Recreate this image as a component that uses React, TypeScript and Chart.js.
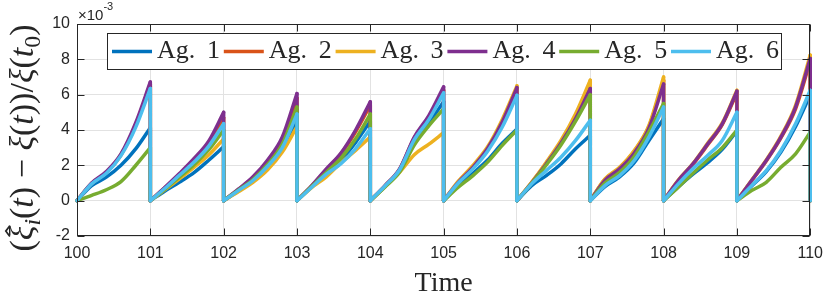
import React, { useEffect, useRef } from "react";
import { Chart, registerables } from "chart.js";

Chart.register(...registerables);

const AGENT_LABELS = ["Ag. 1", "Ag. 2", "Ag. 3", "Ag. 4", "Ag. 5", "Ag. 6"];
const AGENT_COLORS = ["#0072BD", "#D95319", "#EDB120", "#7E2F8E", "#77AC30", "#4DBEEE"];
const PERIOD_STARTS = [100, 101, 102, 103, 104, 105, 106, 107, 108, 109];
const SAMPLE_OFFSETS = [0.2, 0.4, 0.6, 0.8, 1.0];
const X_TICKS = [100, 101, 102, 103, 104, 105, 106, 107, 108, 109, 110];
const Y_TICKS = [-2, 0, 2, 4, 6, 8, 10];
const EXPONENT_BASE = "×10";
const EXPONENT_POWER = "-3";
const X_TITLE = "Time";

// values in units of 10^-3, one row per period, samples at SAMPLE_OFFSETS
const AG1 = [
  [0.85, 1.33, 2.0, 2.93, 4.13],
  [0.55, 1.05, 1.6, 2.3, 3.05],
  [0.55, 1.1, 1.85, 2.85, 4.5],
  [0.78, 1.55, 2.3, 3.3, 4.5],
  [0.8, 1.7, 3.3, 4.4, 5.6],
  [0.85, 1.55, 2.3, 3.25, 4.05],
  [0.85, 1.42, 2.08, 2.94, 3.7],
  [0.8, 1.35, 2.15, 3.41, 4.64],
  [0.78, 1.5, 2.15, 2.9, 3.95],
  [0.83, 1.65, 2.75, 4.2, 6.0],
];
const AG2 = [
  [0.98, 1.6, 2.6, 4.3, 6.6],
  [0.74, 1.5, 2.35, 3.3, 4.7],
  [0.63, 1.3, 2.2, 3.45, 5.8],
  [0.83, 1.75, 2.65, 3.9, 5.4],
  [0.84, 1.78, 3.55, 4.75, 6.25],
  [1.03, 1.87, 2.92, 4.4, 6.3],
  [1.02, 2.12, 3.3, 4.75, 6.5],
  [1.2, 1.85, 2.8, 4.2, 6.8],
  [1.12, 2.05, 3.15, 4.3, 6.1],
  [1.13, 2.25, 3.55, 5.2, 7.9],
];
const AG3 = [
  [0.97, 1.6, 2.6, 4.25, 6.5],
  [0.62, 1.25, 1.9, 2.6, 3.5],
  [0.5, 1.04, 1.75, 2.75, 4.2],
  [0.74, 1.35, 2.15, 2.85, 3.6],
  [0.78, 1.6, 2.6, 3.2, 3.85],
  [1.1, 2.0, 3.05, 4.6, 6.5],
  [1.04, 2.18, 3.41, 4.92, 6.82],
  [1.23, 1.89, 2.84, 4.26, 7.0],
  [1.16, 2.1, 3.25, 4.4, 6.25],
  [1.16, 2.3, 3.65, 5.4, 8.24],
];
const AG4 = [
  [1.0, 1.65, 2.65, 4.4, 6.72],
  [0.76, 1.55, 2.4, 3.4, 5.0],
  [0.65, 1.35, 2.3, 3.6, 6.06],
  [0.85, 1.8, 2.7, 4.0, 5.6],
  [0.85, 1.8, 3.6, 4.83, 6.44],
  [1.04, 1.89, 2.95, 4.45, 6.4],
  [1.0, 2.08, 3.25, 4.65, 6.35],
  [1.15, 1.8, 2.7, 4.1, 6.6],
  [1.14, 2.08, 3.2, 4.35, 6.2],
  [1.14, 2.27, 3.6, 5.3, 8.05],
];
const AG5 = [
  [0.3, 0.62, 1.08, 1.99, 3.0],
  [0.65, 1.35, 2.05, 2.9, 4.0],
  [0.6, 1.2, 2.05, 3.2, 5.3],
  [0.8, 1.6, 2.4, 3.5, 4.9],
  [0.78, 1.62, 3.15, 4.25, 5.2],
  [0.76, 1.42, 2.18, 3.13, 4.0],
  [0.98, 2.02, 3.15, 4.5, 6.0],
  [1.0, 1.6, 2.5, 3.9, 5.5],
  [0.76, 1.55, 2.3, 3.0, 4.0],
  [0.57, 1.04, 1.89, 2.65, 3.88],
];
const AG6 = [
  [0.95, 1.55, 2.55, 4.15, 6.35],
  [0.7, 1.45, 2.2, 3.1, 4.36],
  [0.57, 1.14, 1.95, 3.0, 4.9],
  [0.76, 1.5, 2.1, 2.95, 4.07],
  [0.83, 1.75, 3.45, 4.6, 6.1],
  [1.0, 1.8, 2.8, 4.17, 5.96],
  [0.95, 1.7, 2.46, 3.41, 4.55],
  [0.85, 1.42, 2.27, 3.6, 5.3],
  [0.95, 1.8, 2.56, 3.41, 5.0],
  [0.85, 1.7, 2.84, 4.35, 6.25],
];
const AGENTS = [AG1, AG2, AG3, AG4, AG5, AG6];

type Run = { t: string; it?: boolean; sub?: boolean; hat?: boolean };
const Y_TITLE_RUNS: Run[] = [
  { t: "(" },
  { t: "ξ", it: true, hat: true },
  { t: "i", it: true, sub: true },
  { t: "(" },
  { t: "t", it: true },
  { t: ")" },
  { t: " − " },
  { t: "ξ", it: true },
  { t: "(" },
  { t: "t", it: true },
  { t: "))/" },
  { t: "ξ", it: true },
  { t: "(" },
  { t: "t", it: true },
  { t: "0", sub: true },
  { t: ")" },
];

const INK = "#262626";
const SERIF = '"Liberation Serif", "DejaVu Serif", serif';
const SANS = '"Liberation Sans", Arial, sans-serif';

function curvePoints(rows: number[][]) {
  const pts: { x: number; y: number | null }[] = [];
  rows.forEach((row, p) => {
    const t0 = PERIOD_STARTS[p];
    pts.push({ x: t0, y: 0 });
    row.forEach((v, j) => pts.push({ x: t0 + SAMPLE_OFFSETS[j], y: v }));
    pts.push({ x: t0 + SAMPLE_OFFSETS[SAMPLE_OFFSETS.length - 1], y: null });
  });
  return pts;
}

function dropPoints(rows: number[][]) {
  const pts: { x: number; y: number | null }[] = [];
  rows.forEach((row, p) => {
    const t1 = PERIOD_STARTS[p] + SAMPLE_OFFSETS[SAMPLE_OFFSETS.length - 1];
    pts.push({ x: t1, y: row[row.length - 1] });
    pts.push({ x: t1, y: 0 });
    pts.push({ x: t1, y: null });
  });
  return pts;
}

function fontOf(size: number, italic: boolean) {
  return `${italic ? "italic " : ""}${size}px ${SERIF}`;
}

function drawRuns(ctx: CanvasRenderingContext2D, runs: Run[], cx: number, cy: number, base: number, target: number) {
  const sizes = runs.map((r) => (r.sub ? base * 0.7 : base));
  let total = 0;
  const widths = runs.map((r, i) => {
    ctx.font = fontOf(sizes[i], !!r.it);
    const w = ctx.measureText(r.t).width;
    total += w;
    return w;
  });
  const s = target / total;
  ctx.save();
  ctx.translate(cx, cy);
  ctx.rotate(-Math.PI / 2);
  ctx.scale(s, s);
  ctx.fillStyle = INK;
  ctx.strokeStyle = INK;
  ctx.textBaseline = "alphabetic";
  ctx.textAlign = "left";
  let x = -total / 2;
  runs.forEach((r, i) => {
    ctx.font = fontOf(sizes[i], !!r.it);
    const y = r.sub ? base * 0.22 : 0;
    ctx.fillText(r.t, x, y);
    if (r.hat) {
      const hx = x + widths[i] * 0.62;
      const hy = -base * 0.78;
      ctx.lineWidth = 1.2;
      ctx.beginPath();
      ctx.moveTo(hx - base * 0.16, hy + base * 0.1);
      ctx.lineTo(hx, hy - base * 0.02);
      ctx.lineTo(hx + base * 0.16, hy + base * 0.1);
      ctx.stroke();
    }
    x += widths[i];
  });
  ctx.restore();
}

const decorPlugin = {
  id: "decor",
  afterDraw(chart: any) {
    const { ctx, chartArea: a, scales } = chart;
    const xs = scales.x;
    const ys = scales.y;
    ctx.save();
    // axes box
    ctx.strokeStyle = INK;
    ctx.lineWidth = 1;
    const L = Math.round(a.left) + 0.5;
    const R = Math.round(a.right) - 0.5;
    const T = Math.round(a.top) + 0.5;
    const B = Math.round(a.bottom) - 0.5;
    ctx.strokeRect(L, T, R - L, B - T);
    // inward ticks
    const tl = 7;
    ctx.beginPath();
    X_TICKS.forEach((v) => {
      const px = Math.round(xs.getPixelForValue(v)) + 0.5;
      ctx.moveTo(px, B);
      ctx.lineTo(px, B - tl);
      ctx.moveTo(px, T);
      ctx.lineTo(px, T + tl);
    });
    Y_TICKS.forEach((v) => {
      const py = Math.round(ys.getPixelForValue(v)) + 0.5;
      ctx.moveTo(L, py);
      ctx.lineTo(L + tl, py);
      ctx.moveTo(R, py);
      ctx.lineTo(R - tl, py);
    });
    ctx.stroke();

    // exponent label
    ctx.fillStyle = INK;
    ctx.textBaseline = "alphabetic";
    ctx.textAlign = "left";
    ctx.font = `15px ${SANS}`;
    ctx.fillText(EXPONENT_BASE, a.left + 1, a.top - 4);
    const wb = ctx.measureText(EXPONENT_BASE).width;
    ctx.font = `11px ${SANS}`;
    ctx.fillText(EXPONENT_POWER, a.left + 1 + wb, a.top - 14);

    // x title
    ctx.font = fontOf(28, false);
    ctx.textAlign = "center";
    ctx.fillText(X_TITLE, (a.left + a.right) / 2, 291);

    // y title
    drawRuns(ctx, Y_TITLE_RUNS, 33, 138, 24, 227);

    // legend
    const bx = 107.5, by = 33.5, bw = 674, bh = 36;
    ctx.fillStyle = "#ffffff";
    ctx.fillRect(bx, by, bw, bh);
    ctx.strokeStyle = INK;
    ctx.lineWidth = 1;
    ctx.strokeRect(bx, by, bw, bh);
    const pitch = 111.8;
    AGENT_LABELS.forEach((label, i) => {
      const sx = 112 + i * pitch;
      ctx.strokeStyle = AGENT_COLORS[i];
      ctx.lineWidth = 3.5;
      ctx.beginPath();
      ctx.moveTo(sx, 51.5);
      ctx.lineTo(sx + 40, 51.5);
      ctx.stroke();
      const parts = label.split(" ");
      ctx.fillStyle = INK;
      ctx.textAlign = "left";
      ctx.font = fontOf(26, false);
      ctx.fillText(parts[0], sx + 45, 58);
      ctx.fillText(parts[1], sx + 95, 58);
    });
    ctx.restore();
  },
};

export default function App() {
  const ref = useRef<HTMLCanvasElement | null>(null);
  useEffect(() => {
    if (!ref.current) return;
    const datasets: any[] = [];
    AGENTS.forEach((rows, i) => {
      const common = {
        borderColor: AGENT_COLORS[i],
        backgroundColor: AGENT_COLORS[i],
        borderWidth: 3.5,
        pointRadius: 0,
        fill: false,
        spanGaps: false,
        clip: false,
        borderJoinStyle: "round",
        borderCapStyle: "round",
        order: AGENTS.length - 1 - i,
      };
      datasets.push({
        ...common,
        label: AGENT_LABELS[i],
        data: curvePoints(rows),
        cubicInterpolationMode: "monotone",
      });
      datasets.push({
        ...common,
        label: AGENT_LABELS[i] + " reset",
        data: dropPoints(rows),
        tension: 0,
      });
    });
    const chart = new Chart(ref.current, {
      type: "line",
      data: { datasets },
      options: {
        responsive: false,
        animation: false,
        events: [],
        layout: { padding: { top: 24, right: 16, left: 0, bottom: 0 } },
        plugins: { legend: { display: false }, tooltip: { enabled: false } },
        scales: {
          x: {
            type: "linear",
            min: X_TICKS[0],
            max: X_TICKS[X_TICKS.length - 1],
            afterFit: (s: any) => {
              s.height = 60;
            },
            afterBuildTicks: (s: any) => {
              s.ticks = X_TICKS.map((v) => ({ value: v }));
            },
            ticks: {
              color: INK,
              font: { family: SANS, size: 16 },
              padding: 8,
              maxRotation: 0,
              autoSkip: false,
              callback: (v: any) => String(v),
            },
            grid: { color: "#e2e2e2", drawTicks: false, lineWidth: 1 },
            border: { display: false },
          },
          y: {
            min: Y_TICKS[0],
            max: Y_TICKS[Y_TICKS.length - 1],
            afterFit: (s: any) => {
              s.width = 77;
            },
            afterBuildTicks: (s: any) => {
              s.ticks = Y_TICKS.map((v) => ({ value: v }));
            },
            ticks: {
              color: INK,
              font: { family: SANS, size: 16 },
              padding: 7,
              autoSkip: false,
              callback: (v: any) => String(v),
            },
            grid: { color: "#e2e2e2", drawTicks: false, lineWidth: 1 },
            border: { display: false },
          },
        },
      },
      plugins: [decorPlugin],
    });
    return () => chart.destroy();
  }, []);
  return (
    <div style={{ position: "fixed", left: 0, top: 0, width: 831, height: 296, background: "#fff" }}>
      <canvas ref={ref} width={831} height={296} style={{ display: "block" }} />
    </div>
  );
}
